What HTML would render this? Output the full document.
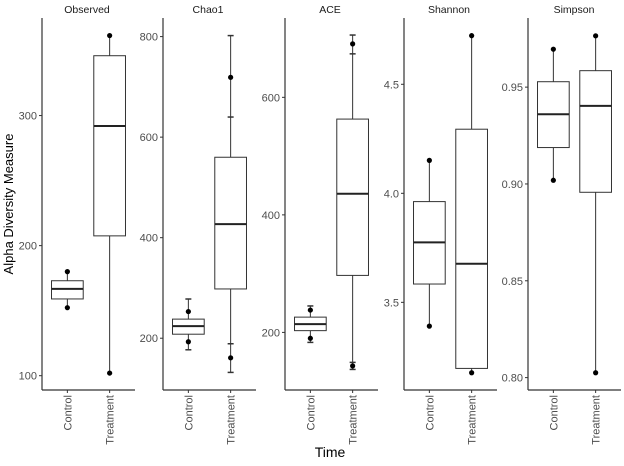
<!DOCTYPE html>
<html><head><meta charset="utf-8"><style>
body{margin:0;background:#fff}
svg text{font-family:"Liberation Sans",sans-serif}
</style></head><body>
<svg id="chart" width="624" height="461" viewBox="0 0 624 461" xmlns="http://www.w3.org/2000/svg">
<text x="0" y="0" transform="translate(13,204) rotate(-90)" text-anchor="middle" font-size="13" fill="#000">Alpha Diversity Measure</text>
<text x="330" y="457" text-anchor="middle" font-size="14" fill="#000">Time</text>
</svg>
<script>
const panels = ["Observed","Chao1","ACE","Shannon","Simpson"];
const categories = ["Control","Treatment"];
const yDomains = [[89,375],[97,837],[102,735],[3.098,4.804],[0.7936,0.9857]];
const yTicks = [[100,200,300],[200,400,600,800],[200,400,600],[3.5,4.0,4.5],[0.80,0.85,0.90,0.95]];
const tickLabels = [["100","200","300"],["200","400","600","800"],["200","400","600"],["3.5","4.0","4.5"],["0.80","0.85","0.90","0.95"]];
// per panel: [control, treatment]; each [whiskerLow, q1, median, q3, whiskerHigh]
const boxStats = [
  [[152,159,166.7,173,180],[102,207.5,292,346,361.5]],
  [[177,208,224,238,278],[132,298,427,560,802]],
  [[183,203,214,226,245],[137,297,436,563,706]],
  [[3.391,3.584,3.775,3.962,4.151],[3.177,3.197,3.677,4.294,4.723]],
  [[0.9019,0.9188,0.936,0.9528,0.9696],[0.8025,0.8957,0.9403,0.9585,0.9765]]
];
const pointValues = [
  [[152.3,180],[102,361.5]],
  [[193,253],[161,719]],
  [[190,238],[143,691]],
  [[3.391,4.151],[3.177,4.723]],
  [[0.9019,0.9696],[0.8025,0.9765]]
];
const capMarks = [
  [[],[]],
  [[177,278],[132,189,640,802]],
  [[183,245],[137,149,674,706]],
  [[],[]],
  [[],[]]
];
const svg = document.getElementById('chart');
const NS = 'http://www.w3.org/2000/svg';
const axisX = [42,163,285,404,528];
const titleX = [87,208,330,449,574];
const W = 93, TOP = 18, BOT = 390;
function mk(tag, attrs){const e=document.createElementNS(NS,tag);for(const k in attrs)e.setAttribute(k,attrs[k]);svg.appendChild(e);return e;}
panels.forEach((p,i)=>{
  const x0 = axisX[i];
  const [d0,d1] = yDomains[i];
  const y = v => BOT - (v-d0)/(d1-d0)*(BOT-TOP);
  const xc = j => x0 + W*(0.6+j)/2.2;
  const bw = W*0.75/2.2;
  const t = mk('text',{x:titleX[i],y:13,'text-anchor':'middle','font-size':'10.5',fill:'#1a1a1a'});
  t.textContent = p;
  
  
  const ya = mk('line',{x1:x0,y1:TOP,x2:x0,y2:BOT,stroke:'#333','stroke-width':1.2});
  
  
  const xa = mk('line',{x1:x0,y1:BOT,x2:x0+W,y2:BOT,stroke:'#333','stroke-width':1.2});
  
  
  yTicks[i].forEach((v,k)=>{
    const tk = mk('line',{x1:x0-3,y1:y(v),x2:x0,y2:y(v),stroke:'#333','stroke-width':1});
    
    
    const tl = mk('text',{x:x0-5,y:y(v)+4,'text-anchor':'end','font-size':'11',fill:'#4d4d4d'});
    tl.textContent = tickLabels[i][k];
    
    
  });
  categories.forEach((c,j)=>{
    const cx = xc(j);
    const tk = mk('line',{x1:cx,y1:BOT,x2:cx,y2:BOT+3,stroke:'#333','stroke-width':1});
    
    
    const lb = mk('text',{x:0,y:0,transform:`translate(${cx+4},395) rotate(-90)`,'text-anchor':'end','font-size':'11',fill:'#4d4d4d'});
    lb.textContent = c;
    
    
    const s = boxStats[i][j];
    const wl = mk('line',{x1:cx,y1:y(s[0]),x2:cx,y2:y(s[1]),stroke:'#333','stroke-width':1});
    
    
    const wh = mk('line',{x1:cx,y1:y(s[3]),x2:cx,y2:y(s[4]),stroke:'#333','stroke-width':1});
    
    
    const r = mk('rect',{x:cx-bw/2,y:y(s[3]),width:bw,height:y(s[1])-y(s[3]),fill:'#fff',stroke:'#333','stroke-width':1});
    
    
    const m = mk('line',{x1:cx-bw/2,y1:y(s[2]),x2:cx+bw/2,y2:y(s[2]),stroke:'#222','stroke-width':2});
    
    
    capMarks[i][j].forEach(v=>{
      const cm = mk('line',{x1:cx-3,y1:y(v),x2:cx+3,y2:y(v),stroke:'#333','stroke-width':1.5});
      
      
    });
    pointValues[i][j].forEach(v=>{
      const pt = mk('circle',{cx:cx,cy:y(v),r:2.6,fill:'#000'});
      
      
    });
  });
});
</script>
</body></html>
